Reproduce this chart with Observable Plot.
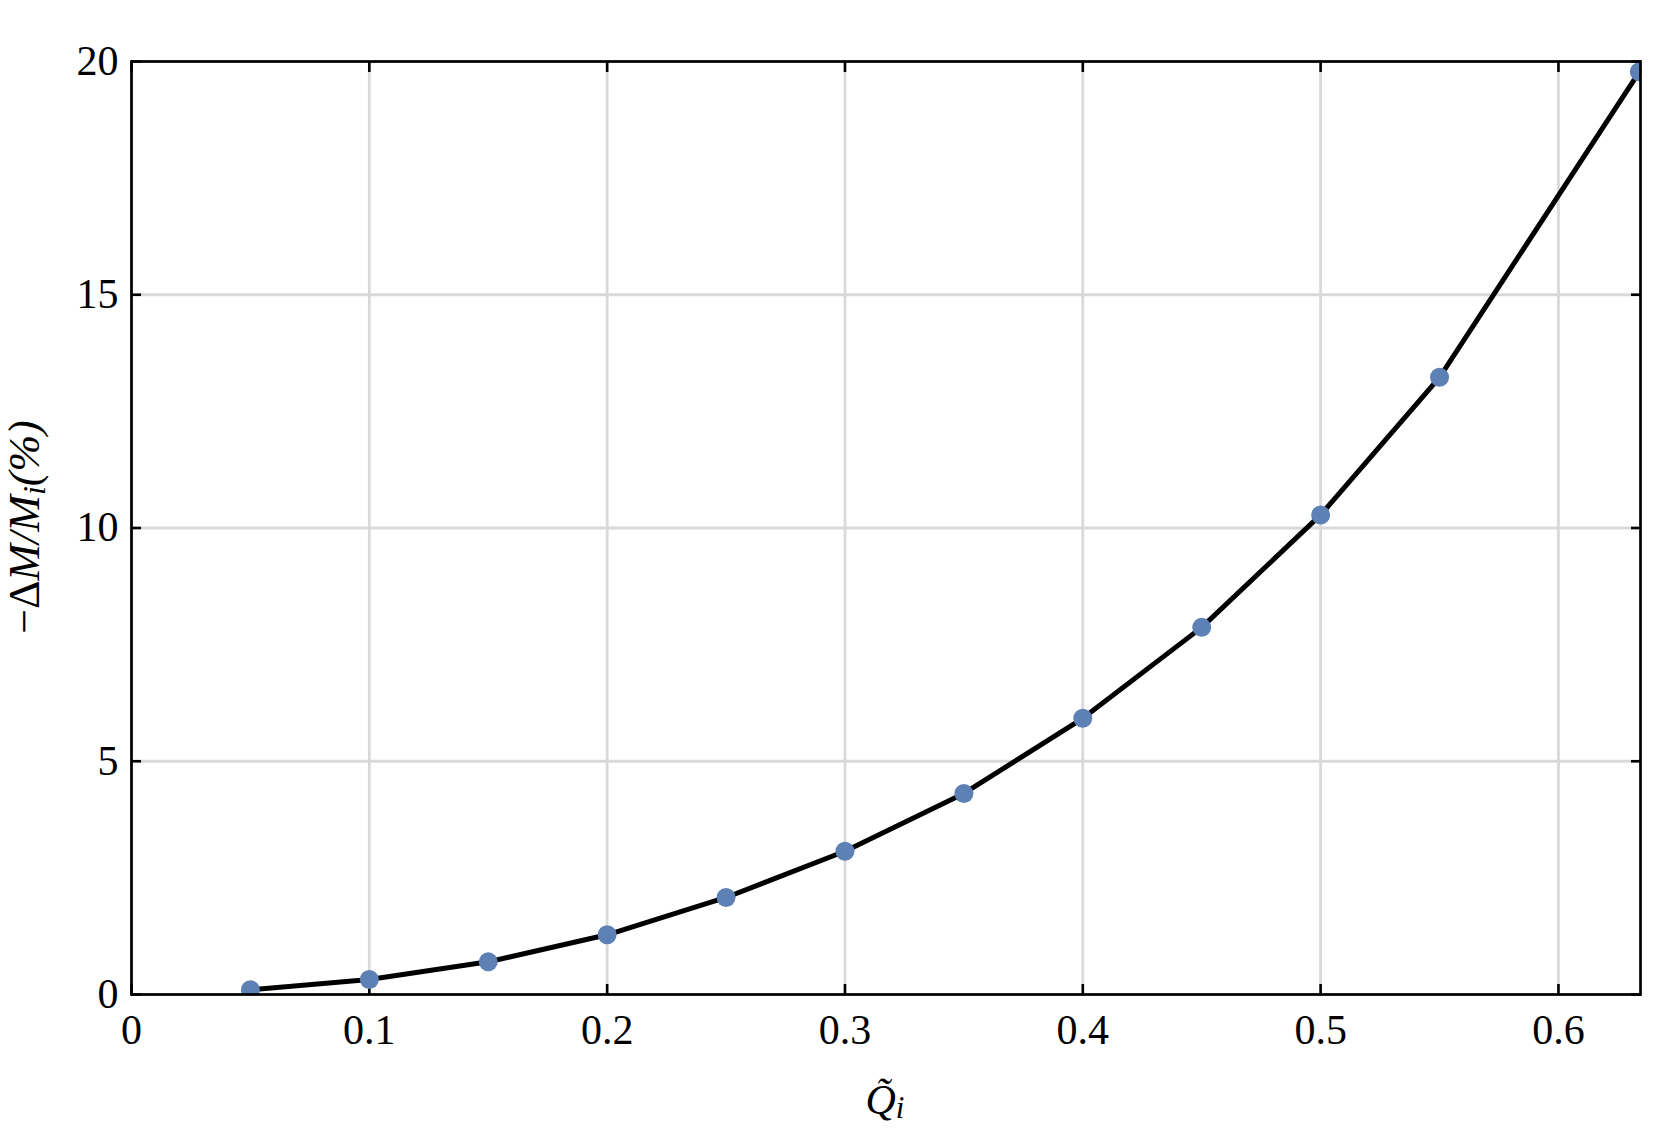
<!DOCTYPE html>
<html><head><meta charset="utf-8">
<script src="https://cdn.jsdelivr.net/npm/d3@7"></script>
<script src="https://cdn.jsdelivr.net/npm/@observablehq/plot@0.6"></script>
<style>body{margin:0;background:#fff}</style>
</head><body><div id="chart"></div>
<script>
// Data
const Q = [0.05, 0.10, 0.15, 0.20, 0.25, 0.30, 0.35, 0.40, 0.45, 0.50, 0.55, 0.634];
const dM = [0.10, 0.32, 0.70, 1.28, 2.08, 3.07, 4.31, 5.92, 7.87, 10.28, 13.23, 19.78];
const xTicks = [0, 0.1, 0.2, 0.3, 0.4, 0.5, 0.6];
const xTickLabels = ["0", "0.1", "0.2", "0.3", "0.4", "0.5", "0.6"];
const yTicks = [0, 5, 10, 15, 20];
const yTickLabels = ["0", "5", "10", "15", "20"];
const xDomain = [0, 0.6345];
const yDomain = [0, 20];

const data = Q.map((q, i) => ({q, m: dM[i]}));
const font = "'Liberation Serif', 'Times New Roman', serif";

const plot = Plot.plot({
  width: 1661, height: 1132,
  marginLeft: 131, marginRight: 21, marginTop: 61, marginBottom: 138,
  style: {fontFamily: font, fontSize: "42px", background: "#fff", color: "#000"},
  x: {domain: xDomain},
  y: {domain: yDomain},
  marks: [
    Plot.gridX(xTicks, {stroke: "#d9d9d9", strokeOpacity: 1, strokeWidth: 2.8}),
    Plot.gridY(yTicks, {stroke: "#d9d9d9", strokeOpacity: 1, strokeWidth: 2.8}),
    Plot.axisX(xTicks, {anchor: "bottom", tickSize: -10, tickPadding: 30, strokeWidth: 2.6,
      tickFormat: d => xTickLabels[xTicks.indexOf(d)], label: null, fontSize: 42}),
    Plot.axisX(xTicks, {anchor: "top", tickSize: -10, strokeWidth: 2.6, tickFormat: () => "", label: null}),
    Plot.axisY(yTicks, {anchor: "left", tickSize: -10, tickPadding: 23, strokeWidth: 2.6,
      tickFormat: d => yTickLabels[yTicks.indexOf(d)], label: null, fontSize: 42}),
    Plot.axisY(yTicks, {anchor: "right", tickSize: -10, strokeWidth: 2.6, tickFormat: () => "", label: null}),
    Plot.line(data, {x: "q", y: "m", stroke: "black", strokeWidth: 5, curve: "linear"}),
    Plot.dot(data, {x: "q", y: "m", r: 9.5, fill: "#5e81b5", clip: true}),
    Plot.frame({stroke: "black", strokeWidth: 2.7})
  ]
});

const svg = d3.select(plot);
// x axis label: Q̃_i
const xl = svg.append("text")
  .attr("x", 885).attr("y", 1114)
  .attr("text-anchor", "middle")
  .style("font-family", font).style("font-size", "42px").attr("fill", "black");
xl.append("tspan").attr("font-style", "italic").text("Q\u0303");
xl.append("tspan").attr("font-style", "italic").attr("font-size", "31px").attr("dy", 4).text("i");

// y axis label: −ΔM/M_i(%)
const yl = svg.append("text")
  .attr("transform", "translate(39,527) rotate(-90)")
  .attr("text-anchor", "middle")
  .style("font-family", font).style("font-size", "44px").attr("fill", "black");
yl.append("tspan").text("\u2212\u0394");
yl.append("tspan").attr("font-style", "italic").text("M/M");
yl.append("tspan").attr("font-style", "italic").attr("font-size", "32px").attr("dy", 6).text("i");
yl.append("tspan").attr("font-style", "italic").attr("dy", -6).text("(%)");

document.getElementById("chart").appendChild(plot);
</script>
</body></html>
